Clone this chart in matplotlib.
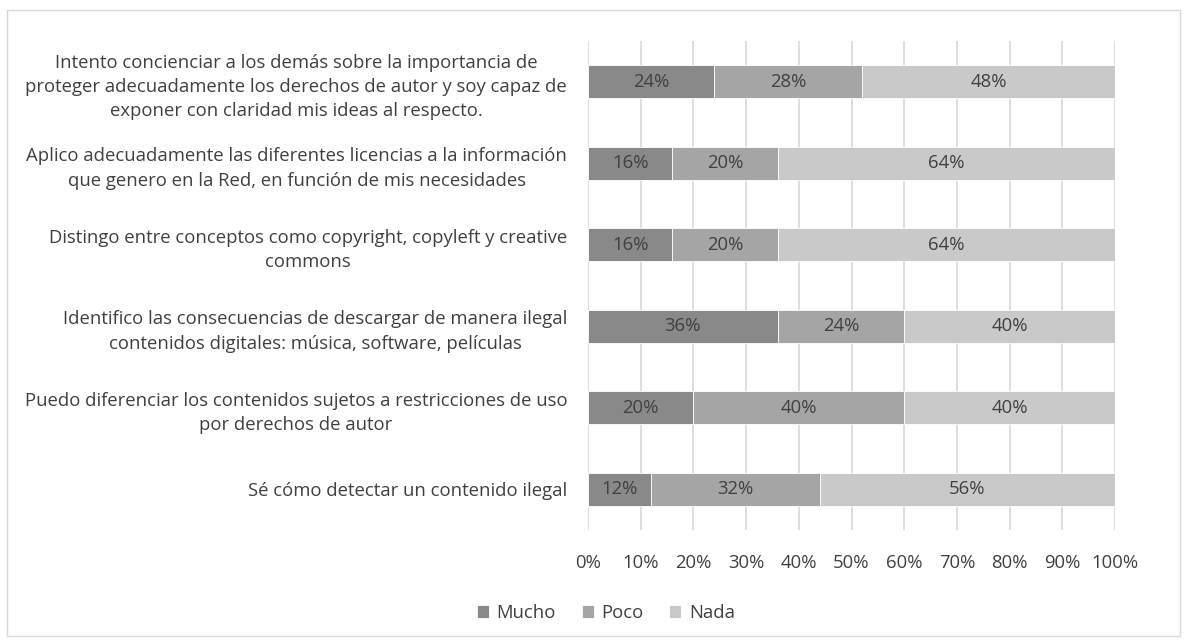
import numpy as np
import matplotlib.pyplot as plt
from matplotlib.patches import Rectangle

# ============================================================
# Data
# ============================================================
categories = [
    "Intento concienciar a los demás sobre la importancia de\nproteger adecuadamente los derechos de autor y soy capaz de\nexponer con claridad mis ideas al respecto.",
    "Aplico adecuadamente las diferentes licencias a la información\nque genero en la Red, en función de mis necesidades",
    "Distingo entre conceptos como copyright, copyleft y creative\ncommons",
    "Identifico las consecuencias de descargar de manera ilegal\ncontenidos digitales: música, software, películas",
    "Puedo diferenciar los contenidos sujetos a restricciones de uso\npor derechos de autor",
    "Sé cómo detectar un contenido ilegal",
]
mucho = [24, 16, 16, 36, 20, 12]
poco = [28, 20, 20, 24, 40, 32]
nada = [48, 64, 64, 40, 40, 56]

series_names = ["Mucho", "Poco", "Nada"]
colors = ["#898989", "#a5a5a5", "#c9c9c9"]
text_color = "#404040"
FS = 13.3

plt.rcParams["font.family"] = ["Open Sans", "DejaVu Sans"]

# ============================================================
# Plot
# ============================================================
fig = plt.figure(figsize=(11.84, 6.42), dpi=100)
ax = fig.add_axes([588 / 1184, 1 - 530 / 642, (1115 - 588) / 1184, (530 - 41) / 642])

y = np.arange(len(categories))
left = np.zeros(len(categories))
for name, vals, col in zip(series_names, [mucho, poco, nada], colors):
    vals = np.array(vals)
    bars = ax.barh(y, vals, left=left, height=0.4, color=col, label=name,
                   edgecolor="white", linewidth=0.6, zorder=3)
    for b, v in zip(bars, vals):
        ax.text(b.get_x() + b.get_width() / 2, b.get_y() + b.get_height() / 2,
                f"{v}%", ha="center", va="center", fontsize=FS, color=text_color, zorder=4)
    left += vals

ax.set_xlim(0, 100)
ax.set_ylim(len(categories) - 0.5, -0.5)
ax.set_xticks(np.arange(0, 101, 10))
ax.set_xticklabels([f"{t}%" for t in range(0, 101, 10)], fontsize=FS, color=text_color)
ax.set_yticks(y)
ax.set_yticklabels(categories, fontsize=FS, color=text_color, multialignment="center",
                   linespacing=1.45)
ax.tick_params(length=0)
ax.tick_params(axis="y", pad=15)
ax.tick_params(axis="x", pad=17)
ax.grid(axis="x", color="#d9d9d9", linewidth=1.2, zorder=0)
for s in ax.spines.values():
    s.set_visible(False)

fig.legend(loc="center", bbox_to_anchor=(606 / 1184, 1 - 613 / 642), ncol=3,
           frameon=False, fontsize=FS, handlelength=0.65, handleheight=0.65,
           handletextpad=0.4, columnspacing=1.4, labelcolor=text_color)

fig.patches.append(Rectangle((7 / 1184, 1 - 636 / 642), 1173 / 1184, 626 / 642,
                             transform=fig.transFigure, fill=False,
                             edgecolor="#d9d9d9", linewidth=1))

fig.savefig("out.png", dpi=100, facecolor="white")
